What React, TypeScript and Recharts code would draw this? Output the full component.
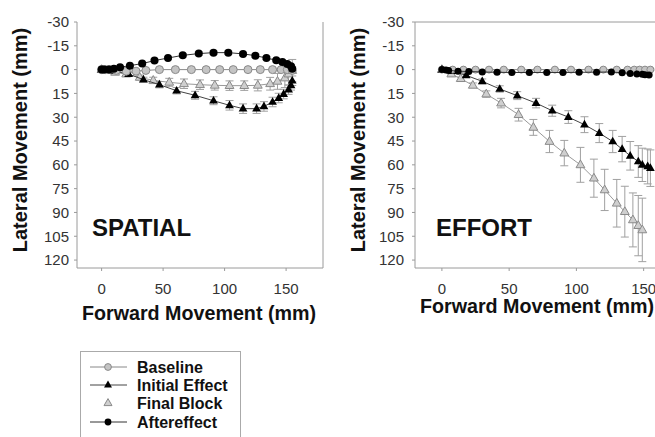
import { ErrorBar, ReferenceLine, Scatter, ScatterChart, XAxis, YAxis } from "recharts";

const FONT = '"Liberation Sans", Arial, Helvetica, sans-serif';

const xTicks = [0, 50, 100, 150];
const yTicks = [-30, -15, 0, 15, 30, 45, 60, 75, 90, 105, 120];
const seriesNames = ["Baseline", "Initial Effect", "Final Block", "Aftereffect"];

// SPATIAL panel
const spBaseX = [0, 3, 6, 12, 20, 28, 36, 47, 60, 73, 85, 96, 107, 119, 129, 139, 146, 151, 155];
const spBaseY = [0, 0, 0, 0.5, 1, 1, 0.5, 0, 0, 0, 0, 0, 0, 0, 0, 0, 0, 0, 0.5];
const spBaseE = [0, 0, 0, 0.5, 0.5, 0.5, 0.5, 0.8, 0.8, 0.8, 0.8, 0.8, 0.8, 0.8, 0.8, 0.8, 0.8, 1, 1];

const spInitX = [0, 9, 22, 34, 47, 61, 76, 91, 104, 115, 126, 132, 139, 144, 148, 152, 154, 155];
const spInitY = [0, 0.8, 2.8, 6.3, 9.5, 13.3, 16.2, 19.6, 22.5, 24.6, 24.6, 23.2, 20.4, 17.9, 15.4, 12.6, 9.9, 7];
const spInitE = [0, 0.5, 1, 1.5, 2, 2, 2.5, 2.5, 3, 3, 3, 3, 3, 3, 3, 3, 3, 3];

const spFinalX = [0, 11, 20, 31, 42, 55, 67, 80, 92, 104, 116, 127, 137, 143, 149, 152, 155];
const spFinalY = [0, 1.7, 2.8, 4.9, 6.8, 8, 8.9, 9.5, 9.9, 10.1, 10.1, 9.9, 8.9, 7.4, 5.3, 2.8, 0.6];
const spFinalE = [0, 0.5, 1, 1.5, 2, 2.5, 3, 3, 3, 3, 3, 3.5, 4, 5, 6, 7, 7];

const spAfterX = [0, 2, 6, 10, 15, 23, 33, 43, 54, 66, 79, 91, 103, 115, 125, 134, 142, 147, 151, 154, 155];
const spAfterY = [0, 0, 0, -0.6, -1.5, -2.5, -3.8, -5.7, -7.3, -9, -10.1, -10.7, -10.7, -9.9, -8.8, -7.3, -5.9, -4.8, -3.5, -2.1, -0.6];
const spAfterE = [0, 0, 0, 0.5, 0.5, 0.5, 0.8, 0.8, 0.8, 1, 1, 1, 1, 1, 1, 1, 1, 1, 1, 1, 1];

// EFFORT panel
const efBaseX = [0, 8, 16, 25, 35, 46, 59, 71, 84, 96, 109, 120, 130, 138, 143, 147, 151, 155];
const efBaseY = [0, 0, 0, 0, 0, 0, 0, 0, 0, 0, 0, 0, 0, 0, 0, 0, 0, 0];
const efBaseE = [0, 0.5, 0.5, 0.5, 0.5, 0.5, 0.5, 0.5, 0.5, 0.5, 0.5, 0.5, 0.5, 0.5, 0.5, 0.5, 0.5, 0.5];

const efInitX = [0, 8, 18, 30, 43, 56, 70, 82, 94, 106, 117, 127, 134, 140, 146, 149, 153, 155];
const efInitY = [0, 1, 3.6, 7.4, 12.2, 16.4, 21.1, 25.9, 29.9, 34.7, 40, 45.3, 50.1, 54.3, 57.9, 60, 61, 62.1];
const efInitE = [0, 0.5, 1, 1.5, 2, 2.5, 3, 3.5, 4, 5, 6, 7, 8, 9, 10, 10.5, 11, 11.5];

const efFinalX = [0, 7, 14, 23, 33, 44, 57, 68, 80, 91, 103, 113, 121, 130, 136, 142, 146, 149];
const efFinalY = [0, 2.8, 5.7, 9.9, 15.4, 21.1, 28.4, 36.4, 45.3, 52.6, 60, 68.4, 75.8, 84.2, 89.5, 94.7, 98.3, 101];
const efFinalE = [0, 0.5, 1, 1.5, 2, 3, 4, 5, 7, 8, 11, 12, 13, 15, 16, 17, 19, 20];

const efAfterX = [0, 3, 5, 12, 20, 30, 41, 52, 65, 78, 90, 102, 115, 126, 134, 140, 145, 149, 151, 154];
const efAfterY = [0, 0.3, 0.5, 1, 1.2, 1.5, 1.7, 1.8, 1.8, 1.8, 1.8, 1.7, 1.6, 1.5, 2, 2.5, 2.8, 3, 3.2, 3.4];
const efAfterE = [0, 0.3, 0.3, 0.5, 0.5, 0.5, 0.5, 0.5, 0.5, 0.5, 0.5, 0.5, 0.5, 0.5, 0.5, 0.5, 0.5, 0.5, 0.5, 0.5];

const rows = (xs: number[], ys: number[], es: number[]) =>
  xs.map((x, i) => ({ x, y: ys[i], e: es[i] }));

const makeShapes = (r: number, t: number) => {
  const tri = (cx: number, cy: number) =>
    `${cx},${cy - t * 1.1} ${cx - t},${cy + t * 0.65} ${cx + t},${cy + t * 0.65}`;
  return {
    grayCircle: (p: any) => (
      <circle cx={p.cx} cy={p.cy} r={r} fill="#c4c4c4" stroke="#8a8a8a" strokeWidth={1} />
    ),
    blackCircle: (p: any) => <circle cx={p.cx} cy={p.cy} r={r} fill="#000" />,
    blackTri: (p: any) => <polygon points={tri(p.cx, p.cy)} fill="#000" />,
    grayTri: (p: any) => (
      <polygon points={tri(p.cx, p.cy)} fill="#cfcfcf" stroke="#8a8a8a" strokeWidth={1} />
    ),
  };
};

const tickStyle = { fill: "#333", fontSize: 15, fontFamily: FONT };

interface PanelProps {
  left: number;
  width: number;
  xTitleY: number;
  yTickMargin: number;
  frame: "right" | "top";
  r: number;
  base: any[];
  init: any[];
  fin: any[];
  after: any[];
}

function Panel(p: PanelProps) {
  const s = makeShapes(p.r, 4.4);
  return (
    <div style={{ position: "absolute", left: p.left, top: 0 }}>
      <ScatterChart width={p.width} height={330} margin={{ top: 22, right: 7, bottom: 0, left: 0 }}>
        <XAxis
          type="number"
          dataKey="x"
          domain={[-20, 180]}
          ticks={xTicks}
          tick={tickStyle}
          tickSize={3}
          tickMargin={12}
          height={62}
          stroke="#9a9a9a"
          label={() => (
            <text
              x={77 + 122}
              y={p.xTitleY}
              textAnchor="middle"
              fontFamily={FONT}
              fontWeight="bold"
              fontSize={19.7}
              fill="#111"
            >
              Forward Movement (mm)
            </text>
          )}
        />
        <YAxis
          type="number"
          dataKey="y"
          reversed
          domain={[-30, 125]}
          ticks={yTicks}
          tick={tickStyle}
          tickSize={3}
          tickMargin={p.yTickMargin}
          width={77}
          stroke="#9a9a9a"
          label={() => (
            <text
              transform="translate(27,140) rotate(-90)"
              textAnchor="middle"
              fontFamily={FONT}
              fontWeight="bold"
              fontSize={20}
              fill="#111"
            >
              Lateral Movement (mm)
            </text>
          )}
        />
        {p.frame === "right" ? (
          <ReferenceLine x={180} stroke="#9a9a9a" />
        ) : (
          <ReferenceLine y={-30} stroke="#9a9a9a" />
        )}
        <Scatter
          name={seriesNames[2]}
          data={p.fin}
          line={{ stroke: "#9a9a9a", strokeWidth: 1 }}
          lineType="joint"
          shape={s.grayTri}
          isAnimationActive={false}
        >
          <ErrorBar dataKey="e" direction="y" width={4} stroke="#a0a0a0" strokeWidth={1} />
        </Scatter>
        <Scatter
          name={seriesNames[1]}
          data={p.init}
          line={{ stroke: "#444", strokeWidth: 1 }}
          lineType="joint"
          shape={s.blackTri}
          isAnimationActive={false}
        >
          <ErrorBar dataKey="e" direction="y" width={4} stroke="#a0a0a0" strokeWidth={1} />
        </Scatter>
        <Scatter
          name={seriesNames[0]}
          data={p.base}
          line={{ stroke: "#888", strokeWidth: 1 }}
          lineType="joint"
          shape={s.grayCircle}
          isAnimationActive={false}
        >
          <ErrorBar dataKey="e" direction="y" width={4} stroke="#a0a0a0" strokeWidth={1} />
        </Scatter>
        <Scatter
          name={seriesNames[3]}
          data={p.after}
          line={{ stroke: "#333", strokeWidth: 1 }}
          lineType="joint"
          shape={s.blackCircle}
          isAnimationActive={false}
        >
          <ErrorBar dataKey="e" direction="y" width={4} stroke="#a0a0a0" strokeWidth={1} />
        </Scatter>
      </ScatterChart>
    </div>
  );
}

function Legend() {
  const rowY = [16, 34, 52, 71];
  const lineColors = ["#888", "#444", null, "#333"];
  const s = makeShapes(3.4, 4);
  const shapes = [s.grayCircle, s.blackTri, s.grayTri, s.blackCircle];
  return (
    <svg
      width={161}
      height={90}
      style={{ position: "absolute", left: 80, top: 351, overflow: "visible" }}
    >
      <rect x={0.5} y={0.5} width={160} height={120} fill="#fff" stroke="#aaa" />
      {seriesNames.map((n, i) => (
        <g key={n}>
          {lineColors[i] && (
            <line x1={10} x2={47} y1={rowY[i]} y2={rowY[i]} stroke={lineColors[i] as string} />
          )}
          {shapes[i]({ cx: 28, cy: rowY[i] })}
          <text
            x={57}
            y={rowY[i]}
            dy="0.36em"
            fontFamily={FONT}
            fontWeight="bold"
            fontSize={16}
            fill="#111"
          >
            {n}
          </text>
        </g>
      ))}
    </svg>
  );
}

const panelText = (label: string, left: number) => (
  <div
    style={{
      position: "absolute",
      left,
      top: 216,
      fontFamily: FONT,
      fontWeight: "bold",
      fontSize: 24,
      lineHeight: 1,
      color: "#111",
    }}
  >
    {label}
  </div>
);

export default function App() {
  return (
    <div
      style={{
        position: "absolute",
        left: 0,
        top: 0,
        width: 655,
        height: 437,
        overflow: "hidden",
        background: "#fff",
      }}
    >
      <Panel
        left={0}
        width={330}
        xTitleY={320}
        yTickMargin={5}
        frame="right"
        r={4}
        base={rows(spBaseX, spBaseY, spBaseE)}
        init={rows(spInitX, spInitY, spInitE)}
        fin={rows(spFinalX, spFinalY, spFinalE)}
        after={rows(spAfterX, spAfterY, spAfterE)}
      />
      <Panel
        left={338}
        width={353}
        xTitleY={313}
        yTickMargin={8}
        frame="top"
        r={3.5}
        base={rows(efBaseX, efBaseY, efBaseE)}
        init={rows(efInitX, efInitY, efInitE)}
        fin={rows(efFinalX, efFinalY, efFinalE)}
        after={rows(efAfterX, efAfterY, efAfterE)}
      />
      {panelText("SPATIAL", 92)}
      {panelText("EFFORT", 436)}
      <Legend />
    </div>
  );
}
